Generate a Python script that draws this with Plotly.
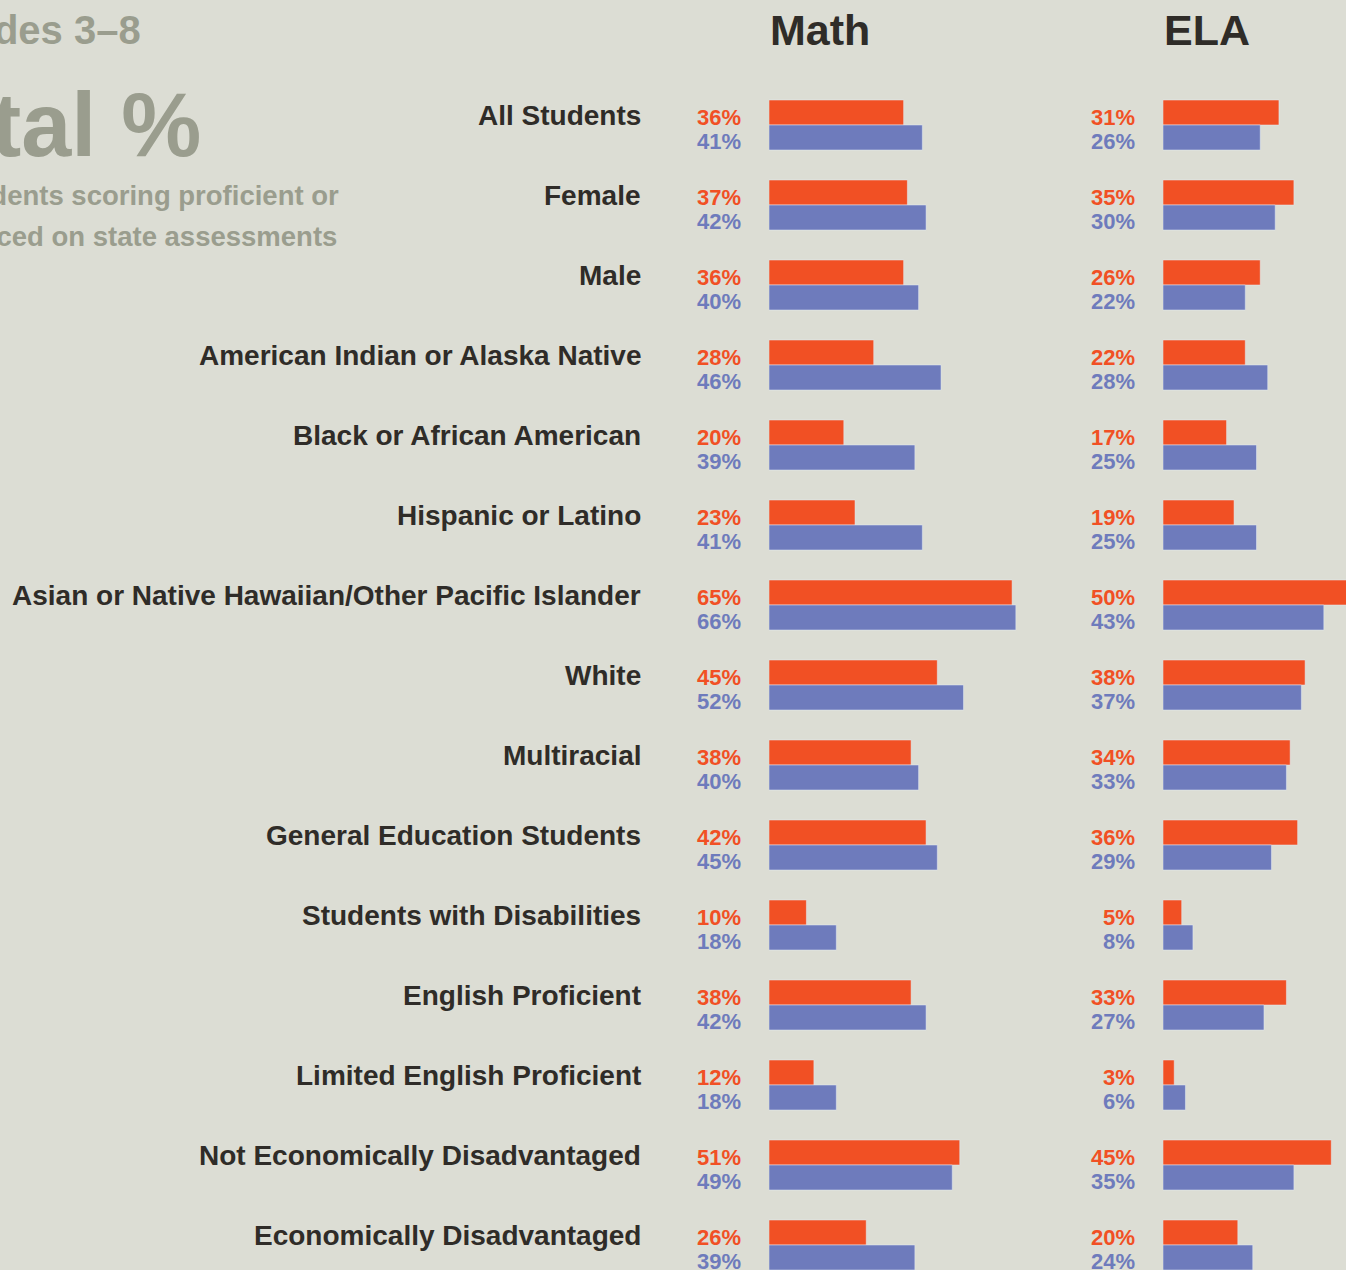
import plotly.graph_objects as go

# Data
GROUPS = ["All Students", "Female", "Male", "American Indian or Alaska Native",
          "Black or African American", "Hispanic or Latino",
          "Asian or Native Hawaiian/Other Pacific Islander", "White", "Multiracial",
          "General Education Students", "Students with Disabilities",
          "English Proficient", "Limited English Proficient",
          "Not Economically Disadvantaged", "Economically Disadvantaged"]
MATH_A = [36, 37, 36, 28, 20, 23, 65, 45, 38, 42, 10, 38, 12, 51, 26]
MATH_B = [41, 42, 40, 46, 39, 41, 66, 52, 40, 45, 18, 42, 18, 49, 39]
ELA_A = [31, 35, 26, 22, 17, 19, 50, 38, 34, 36, 5, 33, 3, 45, 20]
ELA_B = [26, 30, 22, 28, 25, 25, 43, 37, 33, 29, 8, 27, 6, 35, 24]

W, H = 1346, 1270
BG = "#dcddd4"
ORANGE = "#f15024"
BLUE = "#6e7bbc"
DARK = "#2f2c28"
GRAY = "#9a9d8e"
FONT = "Liberation Sans, Arial, sans-serif"
PX = 3.74  # pixels per percent

def px(x):
    return x / W

fig = go.Figure()
for xa, a, b in [("x", MATH_A, MATH_B), ("x2", ELA_A, ELA_B)]:
    fig.add_trace(go.Bar(y=GROUPS, x=a, orientation="h", marker_color=ORANGE,
                         xaxis=xa, yaxis="y", showlegend=False, hoverinfo="x"))
    fig.add_trace(go.Bar(y=GROUPS, x=b, orientation="h", marker_color=BLUE,
                         xaxis=xa, yaxis="y", showlegend=False, hoverinfo="x"))

ann = []
for i, g in enumerate(GROUPS):
    ann.append(dict(x=px(643), y=g, xref="paper", yref="y", text=f"<b>{g}</b>",
                    xanchor="right", yanchor="middle", showarrow=False, yshift=10,
                    font=dict(family=FONT, size=28, color=DARK)))
    for xpos, a, b in [(743, MATH_A[i], MATH_B[i]), (1137, ELA_A[i], ELA_B[i])]:
        ann.append(dict(x=px(xpos), y=g, xref="paper", yref="y", text=f"<b>{a}%</b>",
                        xanchor="right", yanchor="middle", showarrow=False, yshift=8,
                        font=dict(family=FONT, size=22, color=ORANGE)))
        ann.append(dict(x=px(xpos), y=g, xref="paper", yref="y", text=f"<b>{b}%</b>",
                        xanchor="right", yanchor="middle", showarrow=False, yshift=-16,
                        font=dict(family=FONT, size=22, color=BLUE)))

# Headers
for xpos, t in [(768, "Math"), (1162, "ELA")]:
    ann.append(dict(x=px(xpos), y=1 - 30 / H, xref="paper", yref="paper", text=f"<b>{t}</b>",
                    xanchor="left", yanchor="middle", showarrow=False,
                    font=dict(family=FONT, size=43, color=DARK)))

# Title block (cropped on the left)
titles = [(143, 30, "Grades 3–8", 40), (203, 125, "Total %", 90),
          (341, 196, "Percent of students scoring proficient or", 27.5),
          (339, 236, "advanced on state assessments", 27.5)]
for xr, yc, t, s in titles:
    ann.append(dict(x=px(xr), y=1 - yc / H, xref="paper", yref="paper", text=f"<b>{t}</b>",
                    xanchor="right", yanchor="middle", showarrow=False,
                    font=dict(family=FONT, size=s, color=GRAY)))

math_end = 1100
fig.update_layout(
    width=W, height=H, margin=dict(l=0, r=0, t=0, b=0),
    paper_bgcolor=BG, plot_bgcolor=BG,
    barmode="group", bargap=0.375, bargroupgap=0,
    xaxis=dict(domain=[px(769), px(math_end)], range=[0, (math_end - 769) / PX],
               visible=False, fixedrange=True),
    xaxis2=dict(domain=[px(1163), 1], range=[0, (W - 1163) / PX],
                visible=False, fixedrange=True),
    yaxis=dict(type="category", categoryarray=GROUPS,
               range=[14.3125, -1.5625], visible=False, fixedrange=True),
    annotations=ann,
)

fig.write_html("out.html", config={"displayModeBar": False},
               post_script="document.body.style.margin='0';document.body.style.overflow='hidden';")
